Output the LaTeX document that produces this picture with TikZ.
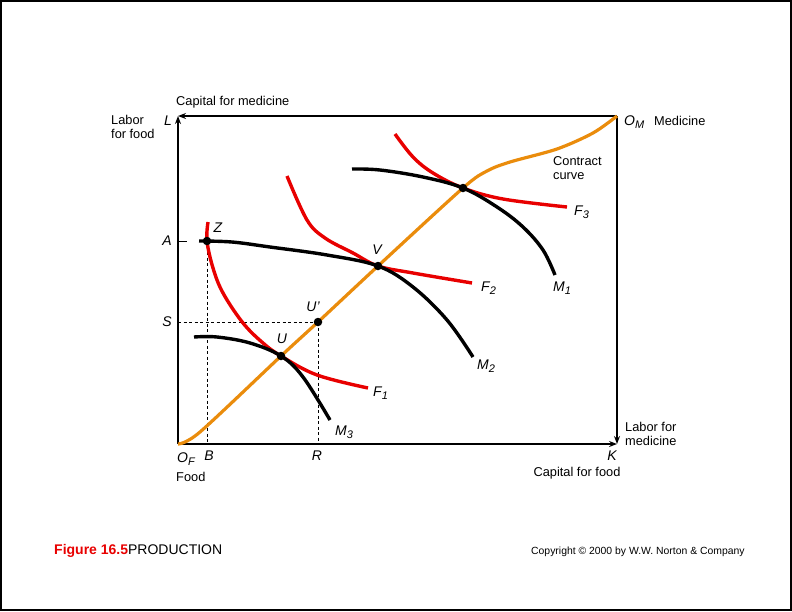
\documentclass[tikz,border=0pt]{standalone}
\usepackage{fontspec}
\setmainfont{Liberation Sans}
\usetikzlibrary{arrows.meta,positioning}
\definecolor{isored}{RGB}{232,0,0}
\definecolor{contractorange}{RGB}{234,140,12}
\newcommand{\lowsub}[1]{\raisebox{-0.45ex}{\fontsize{11}{12}\selectfont #1}}

\begin{document}
\begin{tikzpicture}[x=1pt,y=-1pt,
    axisline/.style={line width=1.6pt,-{Stealth[length=8pt,width=6pt]}},
    foodcurve/.style={line width=3.4pt,isored},
    medcurve/.style={line width=3.4pt,black},
    contract/.style={line width=3.2pt,contractorange},
    guide/.style={thin,dash pattern=on 3pt off 2.5pt},
    dotpt/.style={circle,fill=black,inner sep=0pt,minimum size=8.5pt},
    lbl/.style={font=\fontsize{12.8}{14.2}\selectfont,align=left,inner sep=0pt},
    var/.style={font=\fontsize{14}{16}\selectfont\itshape,inner sep=0pt}]
    \useasboundingbox (0,0) rectangle (792,611);
    % Frame
    \draw[line width=2pt] (1,1) rectangle (791,610);

    % Corners of the box
    \coordinate (OF) at (178,444);
    \coordinate (OM) at (617,116);
    \coordinate (Ltop) at (178,116);
    \coordinate (Kend) at (617,444);

    % Axes
    \draw[axisline] (OM) -- (Ltop);
    \draw[axisline] (OF) -- (Ltop);
    \draw[axisline] (OF) -- (Kend);
    \draw[axisline] (OM) -- (Kend);

    % Points
    \coordinate (Z) at (207,241);
    \coordinate (U) at (281,356);
    \coordinate (Up) at (318,322);
    \coordinate (V) at (378,266);
    \coordinate (W) at (463,188);

    % Guides
    \draw[line width=1pt] (178,241) -- (187,241);
    \draw[guide] (Z) -- (Z |- OF);
    \draw[guide] (OF |- Up) -- (Up);
    \draw[guide] (Up) -- (Up |- OF);

    % Food isoquants
    \draw[foodcurve] plot[smooth,tension=0.6] coordinates {(208,222) (Z) (213,268) (223,293) (243,323) (263,343) (U) (317,375) (368,388)};
    \draw[foodcurve] plot[smooth,tension=0.6] coordinates {(287,176) (307,220) (325,238) (353,253) (V) (413,273) (472,283)};
    \draw[foodcurve] plot[smooth,tension=0.6] coordinates {(395,134) (413,157) (433,173) (W) (503,199) (567,207)};

    % Medicine isoquants
    \draw[medcurve] plot[smooth,tension=0.6] coordinates {(194,337) (217,337) (250,343) (U) (303,377) (330,420)};
    \draw[medcurve] plot[smooth,tension=0.6] coordinates {(199,241) (232,242) (270,247) (327,255) (V) (413,287) (447,320) (473,357)};
    \draw[medcurve] plot[smooth,tension=0.6] coordinates {(352,169) (380,170) (423,177) (W) (497,207) (523,227) (543,250) (555,275)};

    % Contract curve
    \draw[contract] plot[smooth,tension=0.5] coordinates {(OF) (200,432) (U) (Up) (V) (W) (487,171) (510,162) (557,149) (593,133) (OM)};

    \foreach \p in {Z,U,Up,V,W} \node[dotpt] at (\p) {};

    % Labels
    \node[lbl,anchor=west] (capmed) at (176,102) {Capital for medicine};
    \node[lbl,anchor=west] (labfood) at (111,127) {Labor\\for food};
    \node[var] at (168,121) {L};
    \node[var] at (167,241) {A};
    \node[var] at (167,322) {S};
    \node[var] at (218,228) {Z};
    \node[var] at (282,339) {U};
    \node[var] at (313,307) {U'};
    \node[var] at (377,250) {V};
    \node[var,anchor=west] at (574,212) {F\lowsub{3}};
    \node[var,anchor=west] at (481,288) {F\lowsub{2}};
    \node[var,anchor=west] at (373,393) {F\lowsub{1}};
    \node[var,anchor=west] at (553,288) {M\lowsub{1}};
    \node[var,anchor=west] at (477,366) {M\lowsub{2}};
    \node[var,anchor=west] at (335,432) {M\lowsub{3}};
    \node[var,anchor=west] at (624,122) {O\lowsub{M}};
    \node[lbl,anchor=west] (medicine) at (654,121) {Medicine};
    \node[lbl,anchor=west] (ccurve) at (553,168) {Contract\\curve};
    \node[var,anchor=west] at (177,459) {O\lowsub{F}};
    \node[var] at (209,456) {B};
    \node[var] at (317,456) {R};
    \node[var] at (612,456) {K};
    \node[lbl,anchor=west] (food) at (176,477) {Food};
    \node[lbl] (capfood) at (577,473) {Capital for food};
    \node[lbl,anchor=west] (labmed) at (625,434) {Labor for\\medicine};

    % Caption
    \node[anchor=west,inner sep=0pt,font=\fontsize{14}{16}\selectfont] (caption) at (54,551) {\textcolor{isored}{\textbf{Figure 16.5}}PRODUCTION};
    \node[anchor=west,inner sep=0pt,font=\fontsize{10.4}{12}\selectfont] (copy) at (531,552) {Copyright \copyright{} 2000 by W.W. Norton \& Company};
\end{tikzpicture}
\end{document}
